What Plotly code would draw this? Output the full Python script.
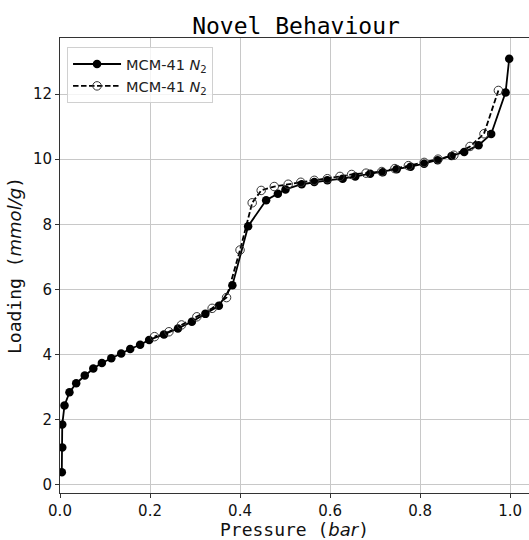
import plotly.graph_objects as go

# Adsorption branch (filled markers, solid line)
ads_pressure = [0.004, 0.005, 0.005, 0.010, 0.021, 0.036, 0.055, 0.074, 0.093, 0.114,
                0.136, 0.156, 0.178, 0.198, 0.231, 0.262, 0.293, 0.323, 0.353, 0.383,
                0.418, 0.458, 0.484, 0.501, 0.537, 0.565, 0.594, 0.628, 0.656, 0.689,
                0.717, 0.748, 0.779, 0.809, 0.839, 0.870, 0.898, 0.930, 0.958, 0.990,
                0.998]
ads_loading = [0.39, 1.15, 1.85, 2.44, 2.84, 3.12, 3.36, 3.57, 3.74, 3.89,
               4.03, 4.17, 4.30, 4.45, 4.62, 4.80, 5.01, 5.25, 5.50, 6.13,
               7.94, 8.74, 8.94, 9.07, 9.23, 9.30, 9.35, 9.40, 9.47, 9.55,
               9.60, 9.69, 9.77, 9.86, 9.97, 10.10, 10.22, 10.43, 10.77, 12.05,
               13.08]

# Desorption branch (open markers, dashed line)
des_pressure = [0.974, 0.942, 0.911, 0.875, 0.840, 0.809, 0.774, 0.744, 0.715, 0.680,
                0.648, 0.622, 0.594, 0.565, 0.535, 0.507, 0.476, 0.447, 0.427, 0.400,
                0.370, 0.338, 0.304, 0.270, 0.242, 0.210]
des_loading = [12.11, 10.78, 10.39, 10.12, 10.00, 9.90, 9.80, 9.71, 9.62, 9.57,
               9.53, 9.47, 9.40, 9.35, 9.29, 9.23, 9.16, 9.04, 8.66, 7.21,
               5.75, 5.42, 5.16, 4.91, 4.70, 4.55]

x_ticks = [0.0, 0.2, 0.4, 0.6, 0.8, 1.0]
y_ticks = [0, 2, 4, 6, 8, 10, 12]

series_name = "MCM-41 <i>N</i><sub>2</sub>"
SANS = "font-family:'DejaVu Sans'"

fig = go.Figure()
fig.add_trace(go.Scatter(
    x=ads_pressure, y=ads_loading, mode="lines+markers", name=series_name,
    legendgroup="ads",
    line=dict(color="black", width=1.8),
    marker=dict(symbol="circle", size=8.5, color="black"),
))
fig.add_trace(go.Scatter(
    x=des_pressure, y=des_loading, mode="lines+markers", name=series_name,
    legendgroup="des",
    line=dict(color="black", width=1.8, dash="5.5px,2.5px"),
    marker=dict(symbol="circle-open", size=8.5, color="#333333", line=dict(width=1)),
))

axis_common = dict(
    showgrid=True, gridcolor="#c8c8c8", gridwidth=1,
    zeroline=False,
    showline=True, linecolor="#333333", linewidth=1,
    ticks="outside", ticklen=4, tickwidth=1, tickcolor="#333333",
    tickfont=dict(family="DejaVu Sans", size=15, color="#111111"),
)

fig.update_xaxes(
    **axis_common, mirror=True, range=[0, 1.042],
    tickvals=x_ticks, ticktext=[f"{v:.1f}" for v in x_ticks],
    title=dict(text=f"Pressure (<span style=\"{SANS}\"><i>bar</i></span>)",
               font=dict(family="DejaVu Sans Mono", size=18, color="#111111"),
               standoff=4),
)
fig.update_yaxes(
    **axis_common, mirror=False, range=[-0.25, 13.72],
    tickvals=y_ticks, ticktext=[str(v) for v in y_ticks],
    title=dict(text=f"Loading (<span style=\"{SANS}\"><i>mmol/g</i></span>)",
               font=dict(family="DejaVu Sans Mono", size=18, color="#111111"),
               standoff=6),
)

fig.update_layout(
    width=529, height=540,
    margin=dict(l=60, r=0, t=38, b=47),
    paper_bgcolor="white", plot_bgcolor="white",
    title=dict(text="Novel Behaviour", x=(296 / 529), xanchor="center",
               y=1, yref="paper", yanchor="bottom", pad=dict(b=4),
               font=dict(family="DejaVu Sans Mono", size=23, color="black")),
    legend=dict(x=0.015, y=0.98, xanchor="left", yanchor="top",
                bgcolor="rgba(255,255,255,0.8)", bordercolor="#d0d0d0", borderwidth=1,
                font=dict(family="DejaVu Sans", size=14.5, color="#222222"),
                tracegroupgap=0, itemwidth=48),
    showlegend=True,
)

fig.write_html("out.html")
